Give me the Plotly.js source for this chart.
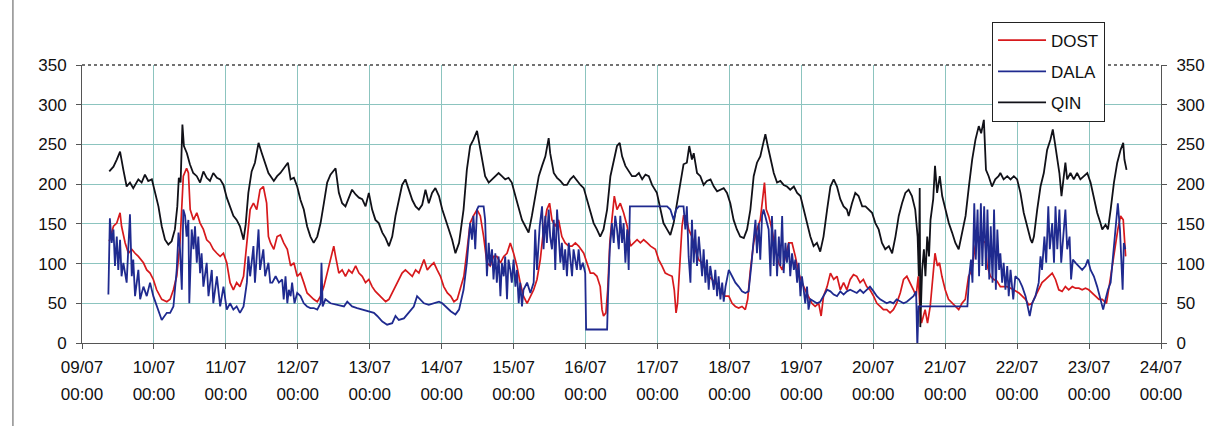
<!DOCTYPE html>
<html><head><meta charset="utf-8">
<script src="https://cdn.plot.ly/plotly-3.0.1.min.js"></script>
<style>html,body{margin:0;padding:0;background:#fff}#chart{width:1206px;height:426px}</style>
</head><body><div id="chart"></div><script>
// hours since 09/07 00:00
const dayLabels = ['09/07','10/07','11/07','12/07','13/07','14/07','15/07','16/07','17/07','18/07','19/07','20/07','21/07','22/07','23/07','24/07'];
const timeLabels = ['00:00','00:00','00:00','00:00','00:00','00:00','00:00','00:00','00:00','00:00','00:00','00:00','00:00','00:00','00:00','00:00'];
const tickHours = [0,24,48,72,96,120,144,168,192,216,240,264,288,312,336,360];
const yTicks = [0,50,100,150,200,250,300,350];

const dostHours = [9.1,10.5,11.6,12.7,13.2,14.4,15.5,16.6,17.7,18.8,20.5,21.6,22.7,23.8,24.9,26.6,28.3,29.4,30.5,31.6,32.7,33.8,34.9,35.5,36.1,37.2,38.3,39.4,40.5,41.6,42.7,43.8,45.0,46.1,47.2,48.3,49.4,50.5,51.6,52.7,53.9,55.0,56.1,57.2,58.3,59.4,60.5,61.6,62.2,
62.9,64.0,65.1,66.2,67.3,68.5,69.6,70.7,71.8,72.9,74.0,75.1,76.2,77.3,78.5,79.6,80.7,81.8,82.9,84.0,84.6,85.7,86.8,87.9,89.0,90.1,91.3,92.4,93.5,94.6,95.7,96.8,97.9,99.0,100.2,101.3,102.4,103.5,104.6,105.7,106.8,107.9,109.0,110.2,111.3,112.4,114.1,115.2,116.3,117.4,118.5,119.6,120.7,121.9,123.0,124.1,125.2,126.3,127.4,128.5,
129.5,130.6,131.8,132.9,134.0,135.1,136.2,137.3,138.4,139.6,140.7,141.8,142.9,144.0,145.1,146.2,147.3,148.5,149.6,150.7,151.8,152.9,154.0,155.1,156.0,156.8,157.9,159.0,160.1,161.2,162.4,163.5,164.6,165.7,167.4,168.5,169.6,170.7,171.8,172.9,173.5,174.0,174.8,175.4,176.1,176.8,177.6,178.5,179.6,180.7,181.9,183.0,184.1,185.2,186.3,187.4,188.6,189.7,
191.3,192.4,193.5,194.6,195.7,196.9,197.6,198.2,198.7,199.4,200.2,200.7,201.6,202.4,203.5,204.6,205.7,206.8,207.9,209.1,210.2,211.3,212.4,213.5,214.6,215.8,216.9,218.0,219.1,220.2,221.3,222.1,223.0,224.1,225.2,226.3,227.2,227.7,228.3,229.1,230.2,231.3,232.4,233.6,234.7,235.8,236.9,238.0,239.1,240.2,241.3,242.4,243.5,244.6,245.8,246.6,247.4,248.6,249.7,250.8,251.9,
253.0,254.1,255.2,256.3,257.4,258.5,259.6,260.7,261.8,262.9,264.1,265.2,266.3,267.4,268.5,269.6,270.7,271.8,273.0,274.1,275.2,276.3,277.4,278.3,279.0,279.6,280.1,281.3,282.1,283.0,283.9,284.6,285.4,286.1,286.9,288.0,289.1,290.3,291.4,292.5,293.6,294.7,295.8,296.9,298.0,299.1,300.3,301.4,302.0,303.1,304.2,305.3,
306.4,308.7,310.9,312.6,313.7,314.8,315.9,317.0,318.1,319.2,320.3,321.5,322.6,323.7,324.8,325.9,327.0,328.1,329.2,330.4,331.5,332.6,333.7,334.8,335.9,337.1,338.2,339.3,340.4,341.8,342.9,343.7,344.8,345.6,346.5,347.4,347.9,348.2];
const dostValues = [128,147,151,164,147,126,113,118,113,109,101,92,88,80,67,55,52,55,67,84,126,210,220,214,168,155,164,151,143,130,126,118,113,109,113,101,76,67,76,71,84,126,168,176,168,193,197,176,134,
126,118,134,136,126,118,97,101,84,88,76,63,59,55,52,59,71,88,105,122,109,88,92,84,92,88,97,88,84,76,80,71,65,61,57,52,55,63,71,80,88,92,88,84,92,88,105,92,97,101,92,84,71,63,59,52,55,71,84,118,
151,160,168,160,134,101,97,109,109,101,109,113,126,113,97,76,59,50,59,67,80,105,143,168,176,155,147,155,134,126,122,122,126,122,113,101,88,88,84,71,42,34,38,67,126,155,185,168,176,164,147,122,126,130,126,130,126,122,
118,105,97,88,86,84,67,38,50,101,147,160,160,143,134,118,105,101,92,84,80,76,71,63,59,59,50,46,44,46,42,55,92,126,143,155,185,202,168,160,143,118,101,92,109,126,126,109,88,76,67,59,50,46,50,34,59,71,88,80,84,
67,76,67,80,86,84,76,80,71,67,59,50,46,42,42,38,42,50,63,80,84,76,67,59,84,42,25,42,25,46,84,113,97,101,84,67,55,50,46,42,50,55,84,92,122,134,130,126,97,84,80,78,
71,71,67,63,59,55,48,50,59,67,76,80,84,88,80,67,65,71,67,71,69,69,67,69,67,63,59,55,55,50,76,97,126,143,160,155,126,109];

const dalaHours = [8.8,9.3,9.9,10.5,11.0,11.6,12.1,12.7,13.2,13.8,14.9,16.0,16.6,17.1,17.7,18.8,19.4,20.5,21.6,22.7,23.8,24.9,26.6,28.3,29.4,30.5,31.6,32.2,32.7,33.3,33.8,34.4,34.9,35.5,35.8,36.6,37.2,37.7,38.3,38.8,39.4,39.9,40.5,41.6,42.2,43.3,43.8,45.0,46.1,47.2,48.3,49.4,50.5,51.6,52.7,53.9,55.0,55.5,56.1,57.2,57.7,58.9,59.4,60.5,61.1,62.2,62.8,
63.5,64.6,65.7,66.8,67.3,67.9,68.5,69.0,69.6,70.1,70.9,71.8,72.9,74.0,75.1,76.2,77.3,78.5,79.6,79.9,80.3,81.2,82.9,85.1,87.4,88.5,90.1,91.8,94.0,95.7,97.4,98.5,100.2,101.8,103.5,104.6,105.7,107.4,109.0,110.7,111.8,112.9,114.1,115.7,117.4,119.1,120.2,121.3,123.0,124.6,125.8,
127.3,128.4,129.5,130.1,130.6,131.2,131.8,132.3,134.0,134.5,135.1,135.7,136.2,136.8,137.3,137.9,138.4,139.0,139.6,140.1,140.7,141.2,141.8,142.3,142.9,143.4,144.0,144.6,145.1,145.7,146.2,146.8,147.3,148.5,149.6,150.7,151.2,151.8,152.7,153.5,154.0,154.6,155.1,155.7,156.2,156.8,157.4,157.9,158.5,159.0,159.6,160.1,160.7,161.2,161.8,162.4,162.9,163.5,164.0,164.6,165.1,165.7,166.3,167.1,167.9,168.2,175.2,175.5,176.1,176.8,177.4,177.9,178.5,179.1,179.6,180.2,180.7,181.3,181.9,182.4,182.8,195.2,
196.3,197.4,198.2,199.1,200.7,201.3,201.8,202.4,203.0,203.5,204.1,204.6,205.2,205.8,206.3,206.9,207.4,208.0,208.5,209.1,209.6,210.2,210.8,211.3,211.9,212.4,213.0,213.6,214.1,214.7,215.8,216.9,218.0,219.1,220.2,221.3,222.4,223.3,224.1,224.7,225.2,225.8,226.3,226.9,227.4,228.3,229.1,229.7,230.2,230.8,231.3,231.9,232.5,233.0,233.6,234.1,234.7,235.2,235.8,236.3,236.9,237.5,238.0,238.6,239.1,239.7,240.2,240.8,241.3,241.9,242.4,243.0,244.1,245.2,246.3,247.4,248.6,249.7,250.8,251.9,
253.0,254.1,255.2,256.3,257.4,258.5,259.6,260.7,261.8,262.9,264.1,265.2,266.3,267.4,268.5,269.6,270.7,271.8,273.0,274.1,275.2,276.3,277.4,278.3,278.7,279.1,295.4,296.0,296.6,297.1,297.7,298.2,298.8,299.3,299.9,300.4,301.0,301.6,302.1,302.7,303.2,303.8,304.3,304.9,305.4,306.0,
306.4,307.0,307.5,308.1,308.7,309.2,309.8,310.7,311.4,312.6,313.7,314.8,315.6,316.2,317.0,318.1,319.2,319.8,320.3,321.1,321.7,322.4,322.9,323.7,324.3,324.8,325.4,326.1,326.7,327.4,328.1,328.7,329.5,330.0,330.6,331.5,332.6,333.7,334.8,335.6,336.5,337.6,338.7,339.8,340.7,341.5,342.3,343.2,344.1,344.8,345.6,346.3,346.7,347.2,347.6,348.1];
const dalaValues = [61,157,126,143,97,134,92,130,84,101,76,162,84,105,59,92,55,71,59,76,59,46,29,38,38,46,92,139,118,67,168,160,134,155,50,143,118,147,101,134,88,113,71,101,59,92,50,84,46,71,42,50,42,46,38,46,76,109,84,122,76,143,92,118,84,101,76,
76,84,76,80,55,84,50,67,59,76,50,63,59,50,46,44,44,42,50,101,46,55,50,48,46,52,46,44,42,40,38,34,27,23,25,34,29,31,38,46,59,55,50,48,50,52,50,46,40,36,42,
67,101,151,130,160,118,168,172,172,155,84,126,97,118,80,113,76,109,59,101,84,109,55,105,92,76,105,71,92,50,76,46,67,76,63,76,143,92,147,172,118,160,126,168,134,118,155,92,168,134,101,126,92,118,84,126,109,84,118,101,92,118,92,101,88,17,17,59,118,151,126,160,143,118,160,126,151,101,143,92,172,172,
168,155,168,172,172,143,172,109,76,155,101,143,97,134,109,84,118,76,105,67,97,84,67,92,59,84,55,76,52,71,92,84,76,71,65,63,65,97,126,155,113,151,105,160,168,155,143,84,160,97,143,84,134,97,160,88,126,101,126,84,113,92,105,76,101,59,84,67,50,71,42,55,52,50,52,59,67,65,61,59,
65,61,65,67,65,63,67,63,67,71,65,59,55,52,50,52,50,55,52,50,52,55,59,65,-5,46,46,84,105,76,176,105,168,84,176,97,172,92,168,80,147,76,168,67,143,92,
113,76,101,67,97,59,92,55,84,80,71,59,42,34,50,59,76,109,92,134,101,172,118,151,101,172,118,168,101,134,168,118,134,80,105,101,97,92,97,105,92,84,71,55,42,55,67,76,113,151,176,143,109,67,126,118];

const qinHours = [9.1,10.5,11.6,12.7,13.8,14.9,16.0,17.1,18.8,19.9,21.0,22.1,23.3,24.4,25.5,26.6,27.7,28.8,29.9,31.0,31.8,32.3,32.9,33.5,34.0,35.0,36.0,37.1,38.3,39.4,40.5,41.6,42.7,43.8,45.0,46.1,47.2,48.3,49.4,50.5,51.6,52.7,53.9,54.6,55.5,56.6,57.7,58.9,60.0,61.1,62.2,
64.0,65.1,66.2,67.9,68.7,69.6,70.7,71.8,72.9,74.0,75.1,76.2,77.3,78.5,79.6,80.7,81.8,82.9,84.6,85.7,86.8,87.9,89.0,90.1,91.3,92.4,93.5,94.6,95.7,96.8,97.9,99.0,100.2,101.3,102.4,103.5,104.6,105.7,106.8,107.9,109.0,110.2,111.3,112.4,113.5,114.6,115.7,116.8,117.9,119.1,120.2,121.3,122.4,123.5,124.6,125.8,
127.3,128.4,129.5,130.6,131.8,132.3,133.4,134.5,135.7,136.8,137.9,139.0,140.1,141.2,142.3,143.4,144.6,145.7,146.8,147.9,149.0,150.1,151.2,152.4,153.5,154.6,155.7,156.2,157.4,158.5,159.6,160.7,161.8,162.9,164.0,165.1,166.3,167.4,168.5,169.6,170.7,171.8,172.9,174.0,175.2,176.3,177.4,178.5,179.4,180.2,181.3,182.4,183.5,184.7,185.8,186.9,188.0,189.1,
190.2,191.8,192.9,194.0,195.2,196.3,197.4,198.5,199.6,200.7,201.8,202.6,203.5,204.1,205.2,206.3,207.4,208.5,209.7,210.8,211.9,213.0,214.1,215.2,216.3,217.4,218.5,219.6,220.8,221.9,223.0,224.1,225.2,226.3,227.4,228.0,228.8,229.7,230.8,231.9,233.0,234.1,235.2,236.3,237.5,238.6,239.7,240.8,241.9,243.0,244.1,245.2,246.3,247.4,248.6,249.7,250.8,251.9,
253.0,254.1,255.2,255.8,256.9,258.0,259.1,260.3,261.4,262.5,263.6,264.7,265.8,266.9,268.0,269.2,270.3,271.4,272.5,273.6,274.7,275.8,276.9,278.0,278.8,279.2,279.5,279.7,280.3,280.9,281.4,282.0,282.6,283.1,284.0,284.6,285.3,286.2,287.0,288.1,289.2,290.3,291.4,292.5,293.7,294.8,295.9,297.0,298.1,299.2,300.0,300.9,301.6,302.5,303.6,304.7,305.8,
306.4,307.5,308.7,309.8,310.9,312.0,313.1,314.2,315.3,316.5,317.0,317.6,318.7,319.8,320.9,322.0,323.1,323.9,324.6,325.4,326.1,326.8,327.6,328.1,328.7,329.8,330.9,332.0,333.1,334.3,335.4,336.5,337.6,338.7,339.8,340.4,341.5,342.3,343.2,344.3,345.4,346.5,347.4,347.8,348.5];
const qinValues = [216,222,231,241,218,197,202,195,206,202,212,204,206,189,172,147,130,124,128,143,172,208,202,275,248,239,225,214,210,202,216,208,204,214,208,206,199,183,172,160,155,147,130,149,189,216,227,252,239,227,214,
204,210,214,222,227,206,208,197,180,168,147,134,126,134,151,176,202,212,220,189,176,172,183,193,187,183,181,172,189,168,155,151,139,132,122,134,160,180,199,206,193,180,172,168,174,193,176,189,195,185,168,155,143,130,113,126,
168,218,248,256,267,256,231,210,202,206,210,214,210,206,208,202,185,168,155,147,139,160,185,210,223,235,258,239,214,208,204,199,199,206,210,204,199,195,180,168,151,143,134,143,168,210,231,248,252,235,223,216,210,210,214,206,212,210,
199,189,168,151,143,136,151,176,202,225,227,248,231,239,214,210,199,204,206,197,191,193,195,189,176,155,143,134,132,143,168,210,227,235,252,263,248,231,214,202,204,199,197,193,197,189,185,168,151,134,122,126,115,134,168,197,206,197,
181,172,168,160,176,189,185,172,172,168,164,151,143,126,118,122,113,134,160,176,189,193,185,168,134,84,195,20,92,118,84,134,109,155,181,223,189,210,185,168,151,139,126,118,139,160,197,231,256,273,264,281,218,210,197,206,210,
214,206,210,206,210,206,189,164,147,130,126,134,168,197,214,243,256,269,252,231,214,185,210,227,206,214,206,214,206,210,214,202,181,164,151,143,149,143,168,202,227,243,252,231,218];

const fontFam = 'Arial, "Liberation Sans", sans-serif';
const gridCol = '#8cc4bf';
const axCol = '#555555';
const tf = {family: fontFam, size: 17, color: '#111111'};

const traces = [
  {x: dostHours, y: dostValues, name: 'DOST', type: 'scatter', mode: 'lines', legendgroup: 'a',
   line: {color: '#d7191c', width: 1.7}, xaxis: 'x', yaxis: 'y'},
  {x: dalaHours, y: dalaValues, name: 'DALA', type: 'scatter', mode: 'lines', legendgroup: 'b',
   line: {color: '#1f2a8f', width: 1.8}, xaxis: 'x2', yaxis: 'y'},
  {x: qinHours, y: qinValues, name: 'QIN', type: 'scatter', mode: 'lines', legendgroup: 'c',
   line: {color: '#111118', width: 1.8}, xaxis: 'x', yaxis: 'y2'}
];

const layout = {
  width: 1206, height: 426,
  margin: {l: 82, r: 45, t: 65, b: 83},
  paper_bgcolor: '#ffffff', plot_bgcolor: '#ffffff',
  font: tf,
  showlegend: true,
  legend: {x: 0.8434, y: 1.156, xanchor: 'left', yanchor: 'top', bgcolor: '#ffffff',
    bordercolor: '#222222', borderwidth: 1, font: tf,
    tracegroupgap: 6, itemwidth: 48},
  xaxis: {range: [0, 360], tickvals: tickHours, ticktext: dayLabels, showgrid: true, gridcolor: gridCol, gridwidth: 1,
    showline: true, linecolor: axCol, linewidth: 1, ticks: 'outside', ticklen: 5, tickcolor: axCol,
    zeroline: false, ticklabelstandoff: 4, tickfont: tf},
  xaxis2: {range: [0, 360], overlaying: 'x', anchor: 'y', side: 'bottom', tickvals: tickHours, ticktext: timeLabels,
    showgrid: false, showline: false, zeroline: false, ticks: 'outside', ticklen: 30, tickcolor: 'rgba(0,0,0,0)',
    ticklabelstandoff: 6, tickfont: tf},
  yaxis: {range: [0, 350], tickvals: yTicks, showgrid: true, gridcolor: gridCol, gridwidth: 1,
    showline: true, linecolor: axCol, linewidth: 1, ticks: 'outside', ticklen: 5, tickcolor: axCol,
    zeroline: false, ticklabelstandoff: 6, tickfont: tf},
  yaxis2: {range: [0, 350], overlaying: 'y', side: 'right', anchor: 'x', tickvals: yTicks, showgrid: false,
    showline: true, linecolor: axCol, linewidth: 1, ticks: 'outside', ticklen: 5, tickcolor: axCol,
    zeroline: false, ticklabelstandoff: 6, tickfont: tf},
  shapes: [
    {type: 'line', xref: 'paper', yref: 'paper', x0: 0, x1: 1, y0: 1, y1: 1,
     line: {color: '#444444', width: 1.5, dash: 'dot'}},
    {type: 'line', xref: 'paper', yref: 'paper', x0: -0.064, x1: -0.064, y0: -0.3, y1: 1.24,
     line: {color: '#555555', width: 1}}
  ]
};

Plotly.newPlot('chart', traces, layout, {displayModeBar: false, staticPlot: true});
</script></body></html>
